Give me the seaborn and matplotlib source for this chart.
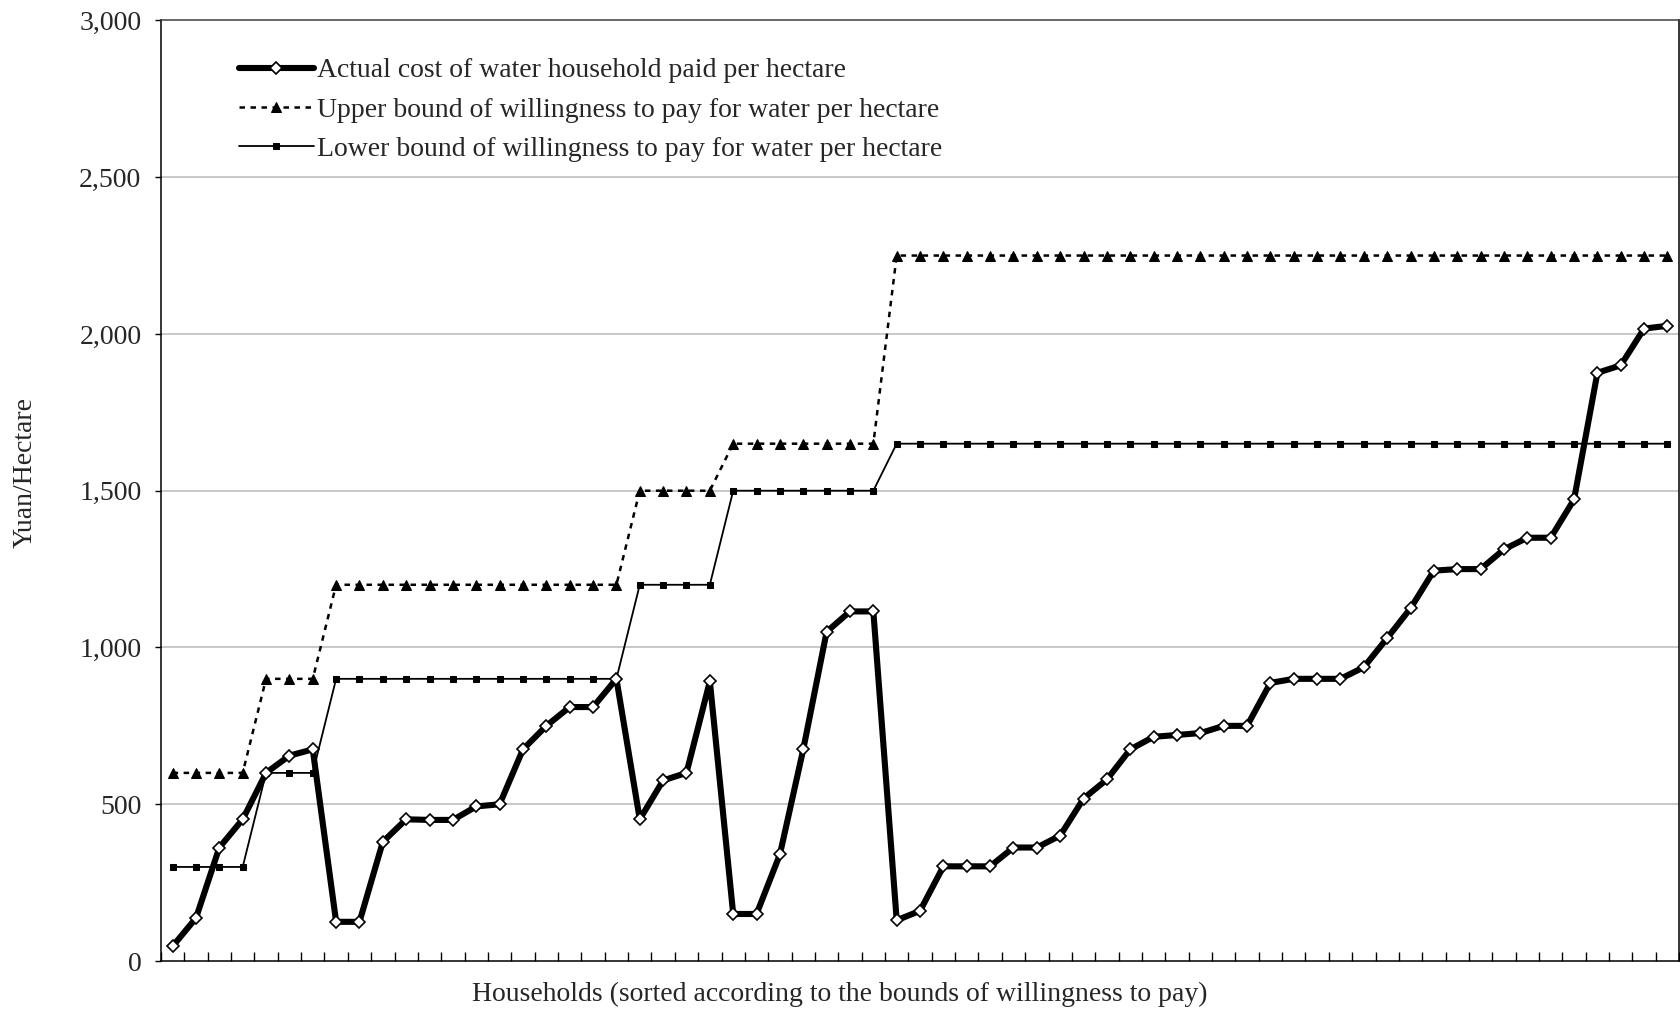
import matplotlib
matplotlib.use("Agg")
import matplotlib.pyplot as plt
import seaborn as sns
import numpy as np
import pandas as pd

# Household index (sorted by the bounds of willingness to pay)
households = list(range(65))

# Actual cost of water paid per hectare (yuan/ha)
actual_cost = [
    47, 137, 362, 452, 600, 655, 675, 125, 125, 380,
    452, 450, 450, 493, 500, 675, 750, 810, 810, 900,
    452, 576, 600, 892, 150, 150, 340, 675, 1050, 1115,
    1115, 130, 160, 302, 302, 302, 362, 362, 400, 518,
    579, 675, 715, 721, 727, 750, 750, 887, 900, 900,
    900, 937, 1030, 1125, 1245, 1250, 1250, 1313, 1350, 1350,
    1472, 1876, 1900, 2017, 2026,
]

# Upper bound of willingness to pay (yuan/ha)
upper_bound = [600] * 4 + [900] * 3 + [1200] * 13 + [1500] * 4 + [1650] * 7 + [2250] * 34

# Lower bound of willingness to pay (yuan/ha)
lower_bound = [300] * 4 + [600] * 3 + [900] * 13 + [1200] * 4 + [1500] * 7 + [1650] * 34

labels = [
    "Actual cost of water household paid per hectare",
    "Upper bound of willingness to pay for water per hectare",
    "Lower bound of willingness to pay for water per hectare",
]

y_ticks = [0, 500, 1000, 1500, 2000, 2500, 3000]

df = pd.DataFrame({
    "household": households,
    "actual": actual_cost,
    "upper": upper_bound,
    "lower": lower_bound,
})

FS = 20

sns.set_theme(style="white")
plt.rcParams["font.family"] = ["Liberation Serif", "DejaVu Serif"]
plt.rcParams["font.size"] = FS

fig = plt.figure(figsize=(16.8, 10.1), dpi=100)
ax = fig.add_axes([0.0958, 0.0485, 0.9037, 0.9313])

# Gridlines behind data
for v in y_ticks[1:-1]:
    ax.axhline(v, color="#bfbfbf", lw=1.2, zorder=0)

sns.lineplot(data=df, x="household", y="actual", ax=ax, color="black", lw=4.4,
             marker="D", markersize=6, markerfacecolor="white",
             markeredgecolor="black", markeredgewidth=1.2,
             label=labels[0], zorder=5)
sns.lineplot(data=df, x="household", y="upper", ax=ax, color="black", lw=1.8,
             linestyle=(0, (2.2, 2.2)), marker="^", markersize=6.5,
             markerfacecolor="black", markeredgecolor="black",
             label=labels[1], zorder=3)
sns.lineplot(data=df, x="household", y="lower", ax=ax, color="black", lw=1.3,
             marker="s", markersize=4.2, markerfacecolor="black",
             markeredgecolor="black", label=labels[2], zorder=4)

ax.set_xlim(-0.5, len(households) - 0.5)
ax.set_ylim(0, 3000)

# Category boundaries as inward tick marks, no labels
ax.set_xticks(np.arange(-0.5, len(households) + 0.5, 1.0))
ax.set_xticklabels([])
ax.tick_params(axis="x", direction="in", length=6.5, width=1, color="black",
               bottom=True, top=False)

ax.set_yticks(y_ticks)
ax.set_yticklabels([f"{v:,}" for v in y_ticks], fontsize=FS)
ax.tick_params(axis="y", direction="out", length=4, width=1, color="black",
               left=True, pad=10)

for side in ["left", "bottom", "top", "right"]:
    ax.spines[side].set_color("black")
    ax.spines[side].set_linewidth(1.1)
ax.spines["top"].set_color("#404040")

ax.set_ylabel("Yuan/Hectare", fontsize=FS)
ax.yaxis.set_label_coords(-0.081, 0.519)

# Axis title for the households, centred on the figure
fig.text(0.5, 0.0155, "Households (sorted according to the bounds of willingness to pay)",
         ha="center", va="center", fontsize=FS)
ax.set_xlabel("")

leg = ax.legend(loc="upper left", bbox_to_anchor=(0.044, 0.972), frameon=False,
                handlelength=2.7, handletextpad=0.1, labelspacing=0.5,
                fontsize=FS, borderaxespad=0)

fig.savefig("out.png", dpi=100, facecolor="white")
